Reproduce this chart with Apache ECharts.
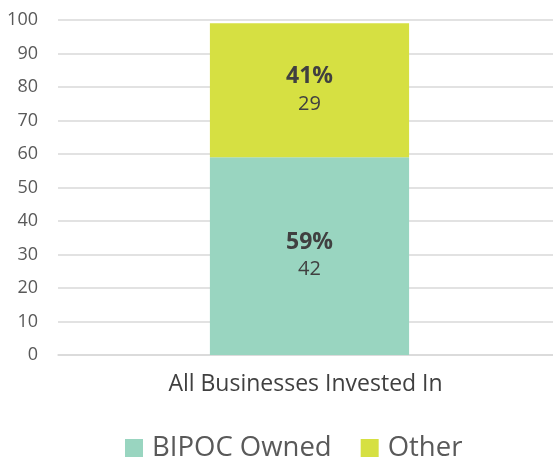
<!DOCTYPE html>
<html>
<head>
<meta charset="utf-8">
<script src="https://cdn.jsdelivr.net/npm/echarts@6/dist/echarts.min.js"></script>
<style>html,body{margin:0;padding:0;background:#fff}#c{width:553px;height:459px}</style>
</head>
<body>
<div id="c"></div>
<script>
const categories = ['All Businesses Invested In'];
const seriesNames = ['BIPOC Owned', 'Other'];
const bipocValues = [59];
const otherValues = [40];
const bipocPct = ['59%'];
const otherPct = ['41%'];
const bipocCount = ['42'];
const otherCount = ['29'];
const yTicks = [0, 10, 20, 30, 40, 50, 60, 70, 80, 90, 100];

const FONT = '"Open Sans", "Noto Sans", sans-serif';
const chart = echarts.init(document.getElementById('c'));
function lab(pcts, counts) {
  return {
    show: true,
    position: 'inside',
    formatter: p => '{a|' + pcts[p.dataIndex] + '}\n{b|' + counts[p.dataIndex] + '}',
    rich: {
      a: { fontSize: 23, fontWeight: 'bold', color: '#404040', fontFamily: FONT, lineHeight: 27 },
      b: { fontSize: 20, color: '#404040', fontFamily: FONT, lineHeight: 27 }
    }
  };
}
const yMin = yTicks[0], yMax = yTicks[yTicks.length - 1];
chart.setOption({
  animation: false,
  textStyle: { fontFamily: FONT },
  grid: [
    { left: 58, right: 0, top: 20, bottom: 104, containLabel: false },
    { left: 66, right: 0, top: 20, bottom: 104, containLabel: false }
  ],
  legend: {
    top: 434, left: 125, padding: 0, icon: 'rect', itemWidth: 18, itemHeight: 18, itemGap: 29,
    textStyle: { fontSize: 27.5, color: '#595959', fontFamily: FONT, padding: [0, 0, 0, 4] },
    data: seriesNames
  },
  xAxis: [
    {
      type: 'category', data: categories, gridIndex: 0,
      axisLine: { lineStyle: { color: '#d9d9d9', width: 1.5 } },
      axisTick: { show: false },
      axisLabel: { fontSize: 23, color: '#404040', margin: 18, fontFamily: FONT }
    },
    { type: 'category', data: categories, gridIndex: 1, show: false }
  ],
  yAxis: [
    {
      type: 'value', min: yMin, max: yMax, interval: 10, gridIndex: 0,
      axisLine: { show: false }, axisTick: { show: false },
      splitLine: { lineStyle: { color: '#d9d9d9', width: 1.5 } },
      axisLabel: { fontSize: 18, color: '#595959', margin: 20, fontFamily: FONT }
    },
    { type: 'value', min: yMin, max: yMax, interval: 10, gridIndex: 1, show: false }
  ],
  series: [
    { name: seriesNames[0], type: 'bar', stack: 's', data: bipocValues, barWidth: '40.9%',
      xAxisIndex: 1, yAxisIndex: 1,
      itemStyle: { color: '#99D5C0' }, label: lab(bipocPct, bipocCount) },
    { name: seriesNames[1], type: 'bar', stack: 's', data: otherValues, barWidth: '40.9%',
      xAxisIndex: 1, yAxisIndex: 1,
      itemStyle: { color: '#D6E042' }, label: lab(otherPct, otherCount) }
  ]
});
</script>
</body>
</html>
